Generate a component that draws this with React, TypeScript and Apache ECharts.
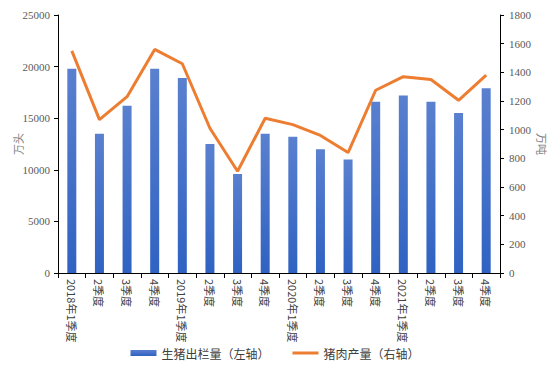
import React, { useEffect, useRef } from "react";
import * as echarts from "echarts";

const categories = [
  "2018年1季度", "2季度", "3季度", "4季度",
  "2019年1季度", "2季度", "3季度", "4季度",
  "2020年1季度", "2季度", "3季度", "4季度",
  "2021年1季度", "2季度", "3季度", "4季度",
];
const hogSlaughter = [19800, 13500, 16200, 19800, 18900, 12500, 9600, 13500, 13200, 12000, 11000, 16600, 17200, 16600, 15500, 17900];
const porkOutput = [1550, 1070, 1230, 1560, 1460, 1010, 710, 1080, 1035, 960, 840, 1275, 1370, 1350, 1205, 1380];
const seriesNames = ["生猪出栏量（左轴）", "猪肉产量（右轴）"];
const leftAxisName = "万头";
const rightAxisName = "万吨";

const FONT = "'Liberation Serif', 'Noto Sans CJK SC', serif";
const CJK = "'Noto Sans CJK SC', sans-serif";

export default function App() {
  const ref = useRef<HTMLDivElement>(null);
  useEffect(() => {
    if (!ref.current) return;
    const chart = echarts.init(ref.current, null, { renderer: "svg" });
    chart.setOption({
      animation: false,
      backgroundColor: "#ffffff",
      grid: { left: 58, right: 50, top: 15, bottom: 99, containLabel: false, outerBoundsMode: "none" },
      legend: {
        bottom: 8,
        left: "center",
        itemWidth: 26,
        itemHeight: 6,
        itemGap: 23,
        textStyle: { fontFamily: CJK, fontSize: 12, color: "#404040" },
        data: [
          { name: seriesNames[0], icon: "rect" },
          { name: seriesNames[1], icon: "path://M0,0h26v3h-26z" },
        ],
      },
      xAxis: {
        type: "category",
        data: categories,
        axisLine: { lineStyle: { color: "#000", width: 1 } },
        axisTick: { show: true, length: 5, lineStyle: { color: "#000" } },
        axisLabel: {
          rotate: -90,
          interval: 0,
          fontSize: 11,
          fontFamily: CJK,
          color: "#404040",
          margin: 6,
        },
      },
      yAxis: [
        {
          type: "value",
          min: 0,
          max: 25000,
          interval: 5000,
          name: leftAxisName,
          nameLocation: "middle",
          nameRotate: 90,
          nameGap: 35,
          nameMoveOverlap: false,
          nameTextStyle: { fontFamily: CJK, fontSize: 11, color: "#7f7f7f" },
          axisLine: { show: true, lineStyle: { color: "#000" } },
          axisTick: { show: true, length: 4, lineStyle: { color: "#000" } },
          axisLabel: { fontFamily: FONT, fontSize: 11, color: "#595959", margin: 8, formatter: (v: number) => String(v) },
          splitLine: { show: false },
        },
        {
          type: "value",
          min: 0,
          max: 1800,
          interval: 200,
          name: rightAxisName,
          nameLocation: "middle",
          nameRotate: -90,
          nameGap: 37,
          nameMoveOverlap: false,
          nameTextStyle: { fontFamily: CJK, fontSize: 11, color: "#7f7f7f" },
          axisLine: { show: true, lineStyle: { color: "#000" } },
          axisTick: { show: true, length: 4, lineStyle: { color: "#000" } },
          axisLabel: { fontFamily: FONT, fontSize: 11, color: "#595959", margin: 9, formatter: (v: number) => String(v) },
          splitLine: { show: false },
        },
      ],
      series: [
        {
          name: seriesNames[0],
          type: "bar",
          yAxisIndex: 0,
          data: hogSlaughter,
          barWidth: 9,
          itemStyle: {
            color: new echarts.graphic.LinearGradient(0, 0, 0, 1, [
              { offset: 0, color: "#5a80cf" },
              { offset: 1, color: "#2f62c2" },
            ]),
          },
        },
        {
          name: seriesNames[1],
          type: "line",
          yAxisIndex: 1,
          data: porkOutput,
          symbol: "none",
          lineStyle: { color: "#ed7d31", width: 3 },
          itemStyle: { color: "#ed7d31" },
        },
      ],
    });
    return () => chart.dispose();
  }, []);
  return (
    <div
      ref={ref}
      style={{ position: "absolute", left: 0, top: 0, width: 550, height: 372 }}
    />
  );
}
